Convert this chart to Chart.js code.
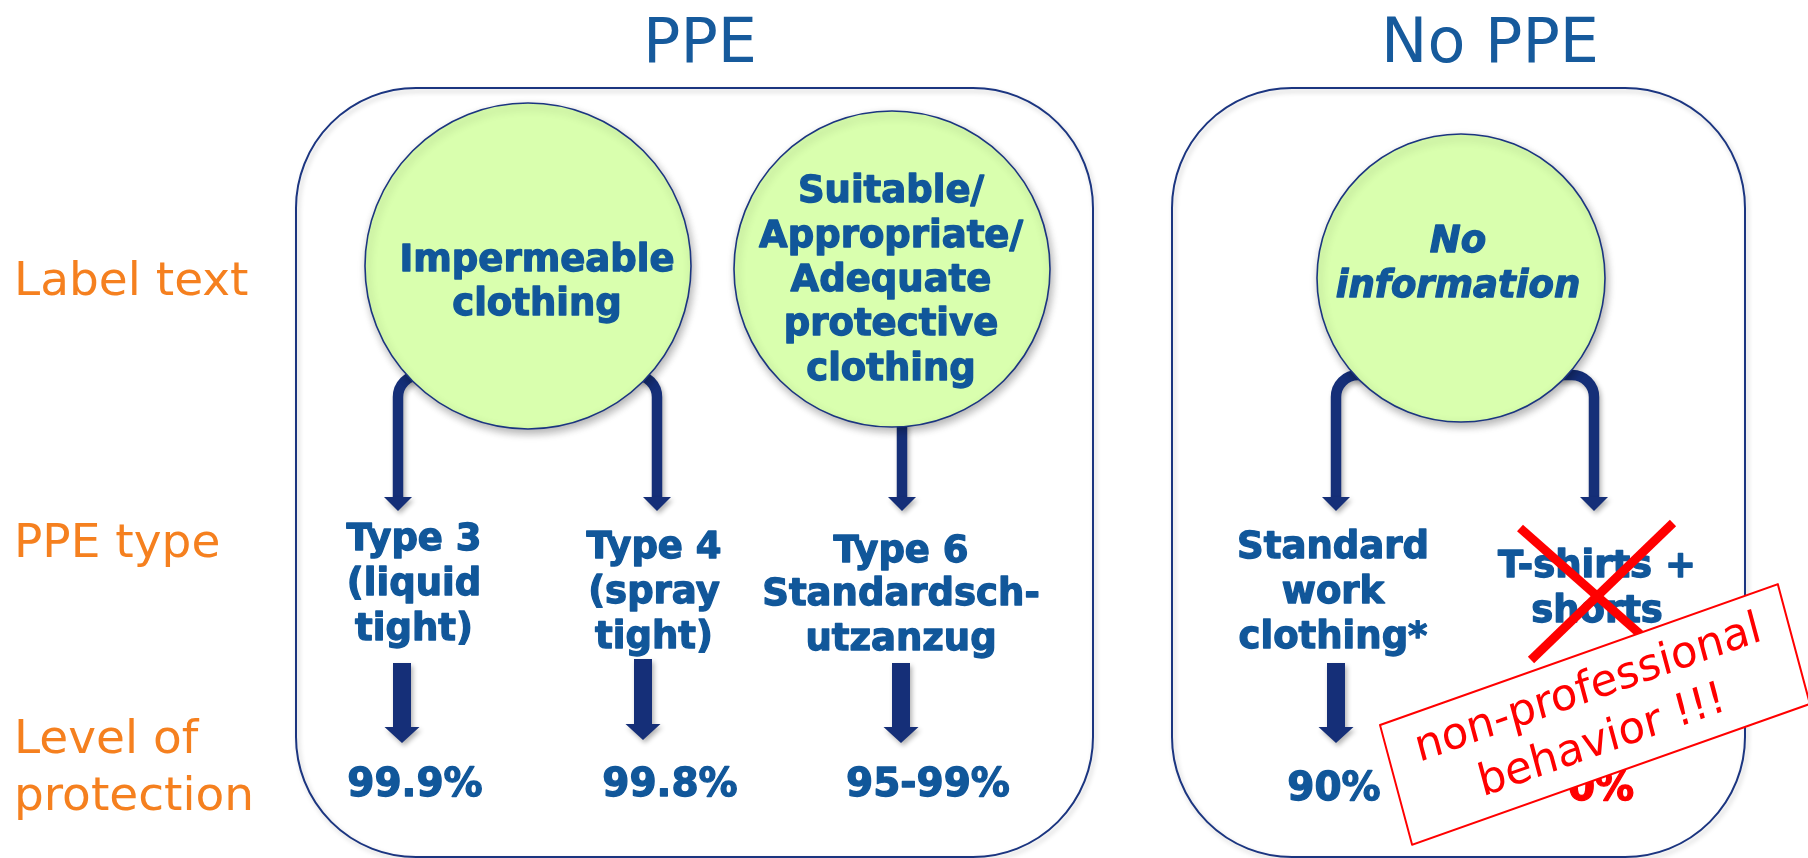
<!DOCTYPE html>
<html>
<head>
<meta charset="utf-8">
<script src="https://cdn.jsdelivr.net/npm/chart.js@4/dist/chart.umd.min.js"></script>
<style>
  html, body { margin: 0; padding: 0; background: #ffffff; }
  #wrap { width: 1808px; height: 858px; position: relative; }
</style>
</head>
<body>
<div id="wrap"><canvas id="c"></canvas></div>
<script>
// ---------------- DATA ----------------
const groups = ['PPE', 'No PPE'];
const rowLabels = [['Label text'], ['PPE type'], ['Level of', 'protection']];
const clothingLabels = [
  ['Impermeable', 'clothing'],
  ['Suitable/', 'Appropriate/', 'Adequate', 'protective', 'clothing'],
  ['No', 'information']
];
const ppeTypes = [
  ['Type 3', '(liquid', 'tight)'],
  ['Type 4', '(spray', 'tight)'],
  ['Type 6', 'Standardsch-', 'utzanzug'],
  ['Standard', 'work', 'clothing*'],
  ['T-shirts +', 'shorts']
];
const protectionLevels = ['99.9%', '99.8%', '95-99%', '90%', '0%'];
const rejectedType = [false, false, false, false, true];
const stampLines = ['non-professional', 'behavior !!!'];

// ---------------- LAYOUT (scale units) ----------------
const LAYOUT = {
  groupX: [700, 1490], groupY: 62,
  boxes: [[296, 1093], [1172, 1745]], boxTop: 88, boxBottom: 857, boxR: 120,
  circles: [[528, 266, 163], [892, 269, 158], [1461, 278, 144]],
  circleTextX: [537, 891, 1458],
  circleTextY: [[271, 315], [202, 247, 291, 335, 380], [252, 297]],
  rowLabelX: 14, rowLabelY: [[295], [557], [753, 810]],
  typeX: [414, 654, 901, 1333, 1597],
  typeY: [[550, 595, 640], [558, 603, 648], [562, 605, 650], [558, 603, 648], [577, 622]],
  brackets: [[398, 657, 375], [1336, 1594, 375]],
  thinTip: 511, thinHeadTop: 497,
  straight: [902, 420],
  bigX: [402, 643, 901, 1336], bigTop: [663, 659, 663, 663], bigHead: [727, 724, 727, 727], bigTip: [743, 740, 743, 743],
  pctX: [415, 670, 928, 1334, 1601], pctY: [796, 796, 796, 800, 800],
  cross: [[1520, 528, 1640, 634], [1673, 523, 1531, 660]],
  stamp: { x: 1380, y: 725, w: 422, h: 124, rot: 19.5, shear: 15, baselines: [48, 102] }
};

const NAVY = '#152f78';
const BLUE = '#11579a';
const ORANGE = '#f5801f';
const GREEN = '#d9ffae';
const RED = '#ff0000';
const FONT = '"DejaVu Sans", Verdana, sans-serif';

function shadowOn(ctx, blur, ox, oy, a) {
  ctx.shadowColor = 'rgba(0,0,0,' + a + ')';
  ctx.shadowBlur = blur; ctx.shadowOffsetX = ox; ctx.shadowOffsetY = oy;
}
function shadowOff(ctx) {
  ctx.shadowColor = 'rgba(0,0,0,0)'; ctx.shadowBlur = 0; ctx.shadowOffsetX = 0; ctx.shadowOffsetY = 0;
}
function heavyText(ctx, s, x, y, color) {
  ctx.fillStyle = color; ctx.strokeStyle = color;
  ctx.lineWidth = 1.3; ctx.lineJoin = 'round';
  ctx.fillText(s, x, y);
  ctx.strokeText(s, x, y);
}

const diagramPlugin = {
  id: 'diagram',
  beforeDatasetsDraw(chart) {
    const ctx = chart.ctx, X = v => chart.scales.x.getPixelForValue(v), Y = v => chart.scales.y.getPixelForValue(v);
    ctx.save();
    // group boxes
    LAYOUT.boxes.forEach(([x0, x1]) => {
      const l = X(x0), r = X(x1), t = Y(LAYOUT.boxTop), b = Y(LAYOUT.boxBottom), rad = LAYOUT.boxR;
      ctx.beginPath();
      ctx.moveTo(l + rad, t);
      ctx.arcTo(r, t, r, b, rad);
      ctx.arcTo(r, b, l, b, rad);
      ctx.arcTo(l, b, l, t, rad);
      ctx.arcTo(l, t, r, t, rad);
      ctx.closePath();
      shadowOn(ctx, 5, 2, 3, 0.22);
      ctx.strokeStyle = '#1b3580';
      ctx.lineWidth = 2;
      ctx.stroke();
    });
    // brackets with thin arrows
    shadowOn(ctx, 5, 2, 3, 0.3);
    ctx.strokeStyle = NAVY; ctx.fillStyle = NAVY;
    ctx.lineWidth = 10.5; ctx.lineCap = 'butt'; ctx.lineJoin = 'round';
    const head = (x, tip) => {
      ctx.beginPath();
      ctx.moveTo(X(x) - 14, Y(LAYOUT.thinHeadTop));
      ctx.lineTo(X(x) + 14, Y(LAYOUT.thinHeadTop));
      ctx.lineTo(X(x), Y(tip));
      ctx.closePath(); ctx.fill();
    };
    LAYOUT.brackets.forEach(([xl, xr, top]) => {
      const r = 22;
      ctx.beginPath();
      ctx.moveTo(X(xl), Y(LAYOUT.thinHeadTop) + 1);
      ctx.lineTo(X(xl), Y(top) + r);
      ctx.arcTo(X(xl), Y(top), X(xl) + r, Y(top), r);
      ctx.lineTo(X(xr) - r, Y(top));
      ctx.arcTo(X(xr), Y(top), X(xr), Y(top) + r, r);
      ctx.lineTo(X(xr), Y(LAYOUT.thinHeadTop) + 1);
      ctx.stroke();
      head(xl, LAYOUT.thinTip); head(xr, LAYOUT.thinTip);
    });
    // straight arrow
    const [sx, sTop] = LAYOUT.straight;
    ctx.beginPath();
    ctx.moveTo(X(sx), Y(sTop)); ctx.lineTo(X(sx), Y(LAYOUT.thinHeadTop) + 1);
    ctx.stroke();
    head(sx, LAYOUT.thinTip);
    // big arrows
    LAYOUT.bigX.forEach((bx, i) => {
      const x = X(bx), t = Y(LAYOUT.bigTop[i]), h = Y(LAYOUT.bigHead[i]), tip = Y(LAYOUT.bigTip[i]);
      ctx.beginPath();
      ctx.moveTo(x - 9, t); ctx.lineTo(x + 9, t); ctx.lineTo(x + 9, h);
      ctx.lineTo(x + 17.5, h); ctx.lineTo(x, tip); ctx.lineTo(x - 17.5, h);
      ctx.lineTo(x - 9, h); ctx.closePath(); ctx.fill();
    });
    ctx.restore();
  },
  beforeDatasetDraw(chart) {
    chart.ctx.save();
    shadowOn(chart.ctx, 8, 2, 4, 0.3);
  },
  afterDatasetDraw(chart) {
    chart.ctx.restore();
  },
  afterDatasetsDraw(chart) {
    const ctx = chart.ctx, X = v => chart.scales.x.getPixelForValue(v), Y = v => chart.scales.y.getPixelForValue(v);
    ctx.save();
    shadowOff(ctx);
    ctx.textBaseline = 'alphabetic';
    // group titles
    ctx.fillStyle = '#165a9c'; ctx.textAlign = 'center';
    ctx.font = '62px ' + FONT;
    groups.forEach((g, i) => ctx.fillText(g, X(LAYOUT.groupX[i]), Y(LAYOUT.groupY)));
    // row labels
    ctx.fillStyle = ORANGE; ctx.textAlign = 'left'; ctx.font = '47px ' + FONT;
    rowLabels.forEach((lines, i) => lines.forEach((s, j) => ctx.fillText(s, X(LAYOUT.rowLabelX), Y(LAYOUT.rowLabelY[i][j]))));
    // circle labels
    ctx.textAlign = 'center';
    clothingLabels.forEach((lines, i) => {
      ctx.font = (i === 2 ? 'italic bold ' : 'bold ') + '37px ' + FONT;
      lines.forEach((s, j) => heavyText(ctx, s, X(LAYOUT.circleTextX[i]), Y(LAYOUT.circleTextY[i][j]), BLUE));
    });
    // ppe types
    ctx.font = 'bold 37px ' + FONT;
    ppeTypes.forEach((lines, i) => lines.forEach((s, j) => heavyText(ctx, s, X(LAYOUT.typeX[i]), Y(LAYOUT.typeY[i][j]), BLUE)));
    // protection levels
    ctx.font = 'bold 39px ' + FONT;
    protectionLevels.forEach((s, i) => heavyText(ctx, s, X(LAYOUT.pctX[i]), Y(LAYOUT.pctY[i]), rejectedType[i] ? RED : BLUE));
    // red cross
    ctx.strokeStyle = RED; ctx.lineWidth = 9; ctx.lineCap = 'butt';
    LAYOUT.cross.forEach(([x0, y0, x1, y1]) => {
      ctx.beginPath(); ctx.moveTo(X(x0), Y(y0)); ctx.lineTo(X(x1), Y(y1)); ctx.stroke();
    });
    // stamp
    const st = LAYOUT.stamp, a = st.rot * Math.PI / 180, s = st.shear * Math.PI / 180;
    ctx.save();
    ctx.transform(Math.cos(a), -Math.sin(a), Math.sin(s), Math.cos(s), X(st.x), Y(st.y));
    ctx.fillStyle = '#ffffff';
    ctx.fillRect(0, 0, st.w, st.h);
    ctx.strokeStyle = RED; ctx.lineWidth = 2;
    ctx.strokeRect(0, 0, st.w, st.h);
    ctx.fillStyle = RED; ctx.font = '44px ' + FONT; ctx.textAlign = 'center';
    stampLines.forEach((line, i) => ctx.fillText(line, st.w / 2, st.baselines[i]));
    ctx.restore();
    ctx.restore();
  }
};

new Chart(document.getElementById('c'), {
  type: 'scatter',
  data: {
    datasets: [{
      label: 'clothing',
      data: LAYOUT.circles.map(([x, y]) => ({ x, y })),
      pointRadius: LAYOUT.circles.map(c => c[2]),
      pointHoverRadius: LAYOUT.circles.map(c => c[2]),
      pointStyle: 'circle',
      backgroundColor: GREEN,
      borderColor: '#1b3580',
      borderWidth: 1.6,
      clip: false
    }]
  },
  options: {
    responsive: true,
    maintainAspectRatio: false,
    animation: false,
    events: [],
    layout: { padding: 0, autoPadding: false },
    plugins: { legend: { display: false }, tooltip: { enabled: false } },
    scales: {
      x: { type: 'linear', min: 0, max: 1808, display: false },
      y: { type: 'linear', min: 0, max: 858, reverse: true, display: false }
    }
  },
  plugins: [diagramPlugin]
});
</script>
</body>
</html>
